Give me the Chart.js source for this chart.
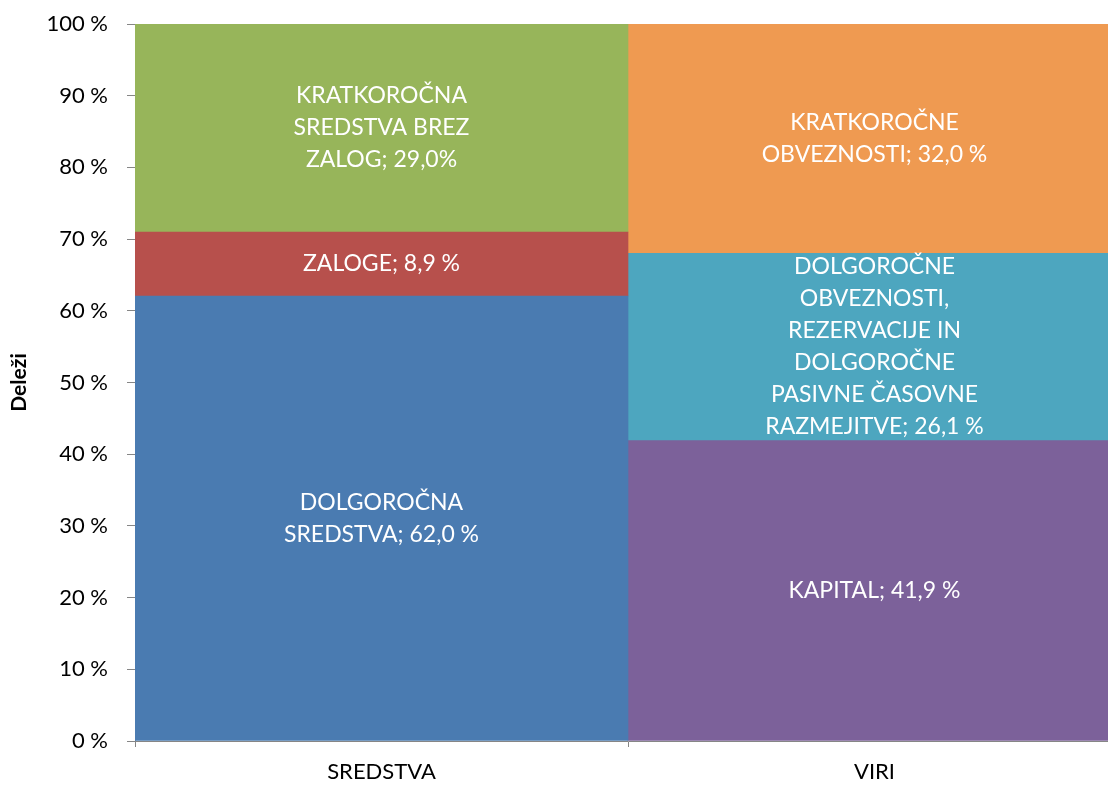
<!DOCTYPE html>
<html>
<head>
<meta charset="utf-8">
<script src="https://cdn.jsdelivr.net/npm/chart.js@4"></script>
<style>
  html, body { margin: 0; padding: 0; background: #ffffff; overflow: hidden; }
  #wrap { width: 1108px; height: 785px; position: relative; overflow: hidden; }
</style>
</head>
<body>
<div id="wrap"><canvas id="c" width="1121" height="785"></canvas></div>
<script>
// ---- data ----
const categories = ['SREDSTVA', 'VIRI'];
const sredstvaValues = [62.0, 8.9, 29.0];
const sredstvaLabels = [
  ['DOLGOROČNA', 'SREDSTVA; 62,0 %'],
  ['ZALOGE; 8,9 %'],
  ['KRATKOROČNA', 'SREDSTVA BREZ', 'ZALOG; 29,0%']
];
const viriValues = [41.9, 26.1, 32.0];
const viriLabels = [
  ['KAPITAL; 41,9 %'],
  ['DOLGOROČNE', 'OBVEZNOSTI,', 'REZERVACIJE IN', 'DOLGOROČNE', 'PASIVNE ČASOVNE', 'RAZMEJITVE; 26,1 %'],
  ['KRATKOROČNE', 'OBVEZNOSTI; 32,0 %']
];
const sredstvaColors = ['#4A7BB1', '#B7504C', '#97B55A'];
const viriColors = ['#7C619A', '#4DA6BF', '#EF9A51'];
const yTickValues = [0, 10, 20, 30, 40, 50, 60, 70, 80, 90, 100];
const axisTitle = 'Deleži';

// ---- build datasets (100% stacked) ----
const sumS = sredstvaValues.reduce((a, b) => a + b, 0);
const sumV = viriValues.reduce((a, b) => a + b, 0);
const datasets = [];
sredstvaValues.forEach((v, i) => {
  datasets.push({
    data: [v / sumS * 100, null],
    backgroundColor: sredstvaColors[i],
    segLabels: [sredstvaLabels[i], null],
    stack: 's'
  });
});
viriValues.forEach((v, i) => {
  datasets.push({
    data: [null, v / sumV * 100],
    backgroundColor: viriColors[i],
    segLabels: [null, viriLabels[i]],
    stack: 's'
  });
});
datasets.forEach(d => { d.barPercentage = 1; d.categoryPercentage = 1; d.borderWidth = 0; });

const segLabelPlugin = {
  id: 'segLabels',
  afterDatasetsDraw(chart) {
    const ctx = chart.ctx;
    ctx.save();
    ctx.fillStyle = '#ffffff';
    ctx.font = '23px Lato';
    ctx.textAlign = 'center';
    ctx.textBaseline = 'middle';
    const lh = 32;
    chart.data.datasets.forEach((ds, di) => {
      const meta = chart.getDatasetMeta(di);
      meta.data.forEach((el, j) => {
        const lines = ds.segLabels[j];
        if (!lines) return;
        const cy = (el.y + el.base) / 2;
        const start = cy - (lines.length - 1) * lh / 2;
        lines.forEach((t, k) => ctx.fillText(t, el.x, start + k * lh));
      });
    });
    ctx.restore();
  }
};

const gray = '#868686';
new Chart(document.getElementById('c'), {
  type: 'bar',
  data: { labels: categories, datasets },
  options: {
    responsive: false,
    animation: false,
    layout: { padding: { top: 24, right: 0, left: 0, bottom: 0 } },
    plugins: { legend: { display: false }, tooltip: { enabled: false } },
    scales: {
      x: {
        stacked: true,
        grid: { drawOnChartArea: false, tickLength: 6, color: gray, offset: true },
        border: { color: gray, width: 1 },
        ticks: { color: '#000', font: { family: 'Lato', size: 22 }, padding: 12 },
        afterFit(s) { s.height = 44; s.paddingLeft = 0; s.paddingRight = 0; }
      },
      y: {
        stacked: true,
        min: 0, max: 100,
        afterBuildTicks(s) { s.ticks = yTickValues.map(v => ({ value: v })); },
        grid: { drawOnChartArea: false, tickLength: 8, color: gray },
        border: { color: gray, width: 1 },
        ticks: { color: '#000', font: { family: 'Lato', size: 22 }, padding: 19,
                 callback: v => v + ' %' },
        title: { display: true, text: axisTitle, color: '#000',
                 font: { family: 'Lato', size: 21, weight: 'bold' }, padding: { top: 7, bottom: 0 } },
        afterFit(s) { s.width = 135; s.paddingTop = 0; s.paddingBottom = 0; }
      }
    }
  },
  plugins: [segLabelPlugin]
});
</script>
</body>
</html>
